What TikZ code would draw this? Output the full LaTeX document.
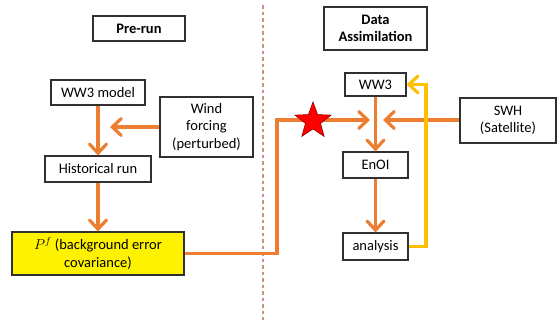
\documentclass[tikz,border=0pt]{standalone}
\usepackage{fontspec}
\setmainfont{Carlito}
\usetikzlibrary{arrows.meta,shapes.geometric}
\definecolor{ora}{HTML}{ED7D31}
\definecolor{yel}{HTML}{FFC000}
\definecolor{boxline}{HTML}{303030}
\definecolor{dashc}{HTML}{CC9480}
\tikzset{
  box/.style={draw=boxline, line width=1.2pt, fill=white, align=center, inner sep=0pt,
    font=\fontsize{14.5}{17.5}\selectfont, text=black},
  title/.style={box, font=\fontsize{14.5}{17.5}\selectfont\bfseries},
  flow/.style={draw=ora, line width=3.2pt, -{Straight Barb[length=9pt,width=17pt,line cap=round]}},
  back/.style={draw=yel, line width=3.2pt, -{Straight Barb[length=9pt,width=17pt,line cap=round]}},
}
\begin{document}
\begin{tikzpicture}[x=1pt,y=-1pt]
\useasboundingbox (0,0) rectangle (557,324);
\coordinate (dtop) at (263,5);
\coordinate (dbot) at (263,320);
\draw[dashc, line width=1.1pt, dash pattern=on 3.5pt off 3pt] (dtop) -- (dbot);

\node[title, minimum width=92pt, minimum height=25pt] (prerun) at (139,28.5) {Pre-run};
\node[title, minimum width=103pt, minimum height=43pt] (da) at (375.5,28.5) {Data\\Assimilation};

\node[box, minimum width=94pt, minimum height=25pt] (ww3m) at (98,92.5) {WW3 model};
\node[box, minimum width=93pt, minimum height=60pt] (wind) at (206.5,127) {Wind\\forcing\\(perturbed)};
\node[box, minimum width=106pt, minimum height=26pt] (hist) at (98,169) {Historical run};
\node[box, fill=yellow, minimum width=172pt, minimum height=43pt] (pf) at (98,253.5) {\(P^f\) (background error\\covariance)};

\node[box, minimum width=61pt, minimum height=23pt] (ww3) at (375.5,84.5) {WW3};
\node[box, minimum width=96pt, minimum height=45pt] (swh) at (508,120.5) {SWH\\(Satellite)};
\node[box, minimum width=65pt, minimum height=26pt] (enoi) at (375.5,165) {EnOI};
\node[box, minimum width=65pt, minimum height=27pt] (ana) at (375.5,246.5) {analysis};

\coordinate (windtip) at (110,127);
\coordinate (swhtip) at (383,120);
\coordinate (pftip) at (370,120);
\coordinate (c1) at (277,253.5);
\coordinate (c2) at (277,120);
\coordinate (y1) at (426,246.5);
\coordinate (y2) at (426,84.5);

\draw[flow] (ww3m) -- (hist);
\draw[flow] (wind.west |- windtip) -- (windtip);
\draw[flow] (hist) -- (pf);
\draw[flow] (pf.east) -- (c1) -- (c2) -- (pftip);
\draw[flow] (swh.west |- swhtip) -- (swhtip);
\draw[flow] (ww3) -- (enoi);
\draw[flow] (enoi) -- (ana);
\draw[back] (ana.east) -- (y1) -- (y2) -- (ww3.east);

\node[star, star points=5, star point ratio=2.4, fill=red, draw=red!60!black, line width=0.6pt,
  minimum size=38pt, inner sep=0pt] (star) at (313,121) {};
\end{tikzpicture}
\end{document}
